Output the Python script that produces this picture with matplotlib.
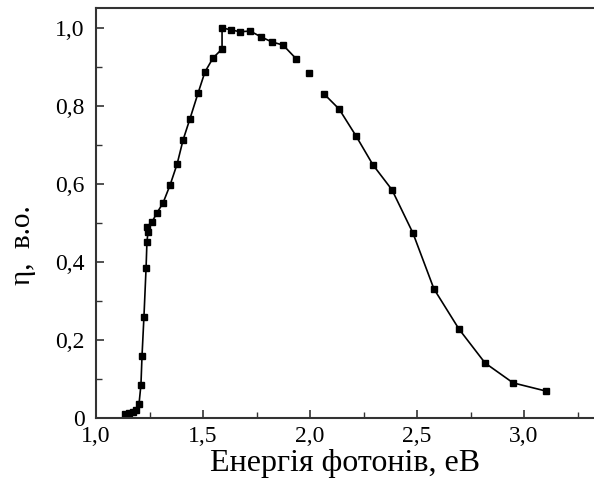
import numpy as np
import matplotlib
matplotlib.use("Agg")
import matplotlib.pyplot as plt
from matplotlib.ticker import MultipleLocator, FuncFormatter

plt.rcParams["font.family"] = ["Liberation Serif", "DejaVu Serif"]

## Data
energy = [1.136, 1.154, 1.173, 1.187, 1.201, 1.210, 1.215, 1.224, 1.234, 1.238,
          1.243, 1.238, 1.262, 1.285, 1.313, 1.346, 1.379, 1.407, 1.439, 1.477,
          1.509, 1.547, 1.589, 1.589, 1.631, 1.673, 1.720, 1.771, 1.822, 1.874,
          1.935, 1.995, 2.065, 2.136, 2.215, 2.294, 2.383, 2.481, 2.579, 2.696,
          2.818, 2.949, 3.103]
eta = [0.010, 0.013, 0.015, 0.020, 0.036, 0.085, 0.159, 0.259, 0.385, 0.451,
       0.477, 0.490, 0.503, 0.526, 0.551, 0.597, 0.651, 0.713, 0.767, 0.833,
       0.887, 0.923, 0.946, 1.000, 0.995, 0.990, 0.992, 0.977, 0.964, 0.956,
       0.921, 0.885, 0.831, 0.792, 0.723, 0.649, 0.585, 0.474, 0.331, 0.228,
       0.141, 0.090, 0.069]
gap = 31  # the point at 2.0 eV is not joined by the line

energy = np.array(energy)
eta = np.array(eta)

fig = plt.figure(figsize=(5.94, 4.88), dpi=100)
ax = fig.add_axes([96/594, 70/488, 1 - 96/594, 410/488])

ax.plot(energy[:gap], eta[:gap], color="black", lw=1.2)
ax.plot(energy[gap+1:], eta[gap+1:], color="black", lw=1.2)
ax.plot(energy, eta, "s", color="black", ms=5)

ax.set_xlim(1.0, 3.327)
ax.set_ylim(0, 1.051)
ax.xaxis.set_major_locator(MultipleLocator(0.5))
ax.xaxis.set_minor_locator(MultipleLocator(0.25))
ax.yaxis.set_major_locator(MultipleLocator(0.2))
ax.yaxis.set_minor_locator(MultipleLocator(0.1))

def comma(v, pos):
    if abs(v) < 1e-9:
        return "0"
    return f"{v:.1f}".replace(".", ",")

ax.xaxis.set_major_formatter(FuncFormatter(comma))
ax.yaxis.set_major_formatter(FuncFormatter(comma))

ax.spines["right"].set_visible(False)
for s in ["left", "bottom", "top"]:
    ax.spines[s].set_linewidth(1.5)
    ax.spines[s].set_color("#333333")

ax.tick_params(which="both", direction="in", top=False, right=False, labelsize=17, color="#333333")
ax.tick_params(which="major", length=6, width=1.2)
ax.tick_params(axis="x", which="major", pad=6)
ax.tick_params(axis="y", which="major", pad=8)
ax.tick_params(which="minor", length=4, width=1.0)

ax.set_xlabel("Енергія фотонів, еВ", size=23, labelpad=1)
ax.set_ylabel("η,  в.о.", size=21)
ax.yaxis.set_label_coords(-(96 - 36) / 498, (418 - 245) / 410)

fig.savefig("out.png", dpi=100)
